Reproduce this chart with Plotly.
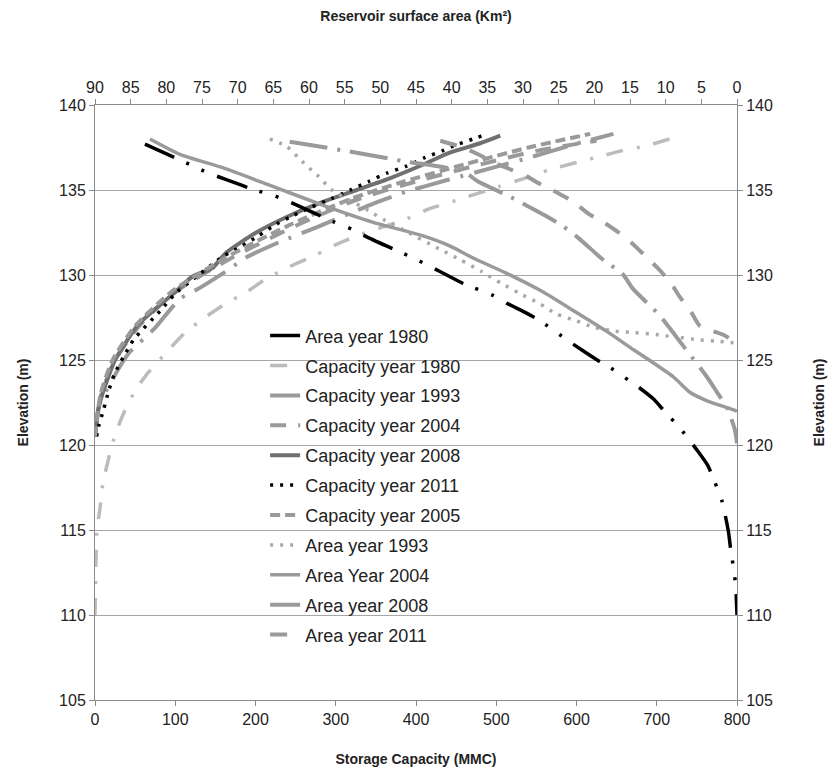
import plotly.graph_objects as go

# ---------------- data (elevation in m) ----------------
# Area curves (km2, top axis)
area1980_elev = [137.7, 136.5, 136.0, 135.6, 135.0, 134.7, 134.3, 133.1, 132.7, 132.2, 131.0, 130.5, 130.0, 129.5,
                 128.8, 128.3, 127.8, 127.3, 126.2, 125.6, 125.0, 124.5, 123.4, 122.7, 121.9, 121.1, 119.7, 118.8,
                 117.8, 116.7, 114.9, 113.9, 112.8, 111.8, 110.0]
area1980_val = [83.0, 76.7, 74.1, 71.5, 67.6, 65.1, 62.7, 56.4, 54.0, 51.7, 45.4, 43.0, 40.7, 38.4,
                34.2, 32.1, 29.7, 27.6, 23.9, 21.8, 19.6, 17.6, 13.8, 11.7, 10.0, 8.2, 5.6, 4.1,
                3.1, 2.1, 1.2, 0.9, 0.5, 0.2, 0.0]

area1993_elev = [138.0, 137.55, 137.16, 136.7, 136.3, 135.9, 135.5, 135.0, 134.4, 133.8, 133.2, 132.7, 131.5, 130.9,
                 130.2, 129.5, 128.9, 128.3, 127.7, 127.3, 126.9, 126.7, 126.6, 126.5, 126.4, 126.7, 126.4, 126.2,
                 126.1, 126.0]
area1993_val = [65.5, 63.1, 62.1, 61.0, 60.0, 58.9, 58.0, 56.8, 54.3, 51.7, 49.3, 47.0, 41.6, 38.8,
                35.8, 33.0, 30.4, 27.6, 25.3, 22.5, 19.9, 17.1, 14.3, 11.3, 9.9, 9.1, 8.5, 5.6,
                2.8, 0.0]

area2004_elev = [138.0, 137.1, 136.3, 135.2, 134.1, 133.1, 132.3, 131.7, 131.0, 130.1, 129.1, 127.9, 126.7, 125.6,
                 125.1, 124.0, 123.1, 122.6, 122.2, 122.0]
area2004_val = [82.3, 78.1, 72.0, 65.0, 58.0, 51.0, 44.0, 40.2, 37.0, 32.3, 27.6, 22.9, 18.3, 14.5,
                12.7, 8.9, 6.6, 4.2, 1.4, 0.0]

area2008_elev = [137.84, 137.3, 136.7, 136.1, 135.5, 134.6, 133.5, 132.9, 132.2, 130.8, 130.1, 129.2, 127.6,
                 125.7, 124.0, 123.1, 122.2, 120.9, 120.1]
area2008_val = [62.7, 54.8, 46.8, 38.4, 36.3, 31.8, 26.9, 24.5, 22.3, 18.5, 16.1, 14.6, 10.8,
                7.3, 4.2, 2.8, 1.4, 0.3, 0.0]

area2011_elev = [137.9, 137.5, 137.1, 136.6, 136.2, 135.8, 135.3, 134.8, 134.3, 133.6, 133.1, 132.5, 131.9,
                 131.1, 130.4, 129.6, 128.7, 127.8, 127.0, 126.5, 126.0]
area2011_val = [41.6, 38.4, 36.3, 34.0, 31.7, 29.5, 27.4, 25.0, 22.9, 20.8, 18.7, 16.6, 14.8,
                12.8, 11.1, 9.4, 8.0, 6.4, 5.2, 2.0, 0.0]

# Capacity curves (MMC, bottom axis)
cap1980_elev = [110.0, 115.0, 116.2, 117.8, 119.2, 120.6, 121.9, 123.2, 124.3, 125.5, 126.6, 127.5, 128.3, 129.0,
                129.8, 130.5, 131.2, 131.8, 132.3, 133.3, 133.9, 134.4, 135.2, 135.7, 136.2, 136.9, 137.3, 137.6, 138.0]
cap1980_val = [0, 2.5, 6, 10, 17, 25, 36, 50, 67, 90, 112, 137, 162, 189,
               214, 243, 276, 301, 326, 388, 417, 451, 503, 536, 567, 623, 656, 687, 716]

cap1993_elev = [120.5, 122.3, 124.3, 125.4, 126.8, 128.6, 129.2, 130.3, 131.0, 132.0, 132.8, 134.2, 134.9,
                135.6, 136.3, 137.0, 137.7, 138.3]
cap1993_val = [0, 5, 27, 42, 73, 106, 129, 166, 187, 233, 276, 347, 388,
               440, 495, 548, 598, 646]

cap2004_elev = [120.5, 123.0, 125.0, 127.0, 129.0, 131.0, 133.0, 134.5, 135.5, 136.5, 137.3, 137.9]
cap2004_val = [0, 8, 25, 55, 100, 170, 255, 330, 400, 480, 550, 625]

cap2008_elev = [120.5, 122.3, 123.8, 125.0, 126.0, 127.1, 128.0, 129.0, 129.9, 130.4, 131.3, 132.5, 133.5,
                134.3, 135.0, 135.7, 136.5, 137.2, 137.75, 138.2]
cap2008_val = [0, 5, 15, 25, 38, 54, 75, 100, 121, 146, 163, 201, 243,
               284, 326, 368, 409, 442, 480, 505]

cap2011_elev = [120.5, 121.1, 122.1, 123.2, 124.2, 125.2, 126.2, 127.9, 128.9, 129.6, 131.1, 131.7, 132.3,
                133.0, 133.5, 134.0, 134.5, 135.0, 135.5, 136.0, 136.4, 136.9, 137.35, 137.6, 138.0, 138.2]
cap2011_val = [2, 4.6, 10.8, 17.1, 24.5, 35.7, 48.2, 81.4, 100, 118, 160, 183, 203.5,
               226.5, 247, 270, 295, 318, 341, 364, 388, 411, 435, 447, 471, 483]

cap2005_elev = [120.5, 123.0, 125.0, 127.0, 129.0, 131.0, 133.0, 134.5, 135.5, 136.5, 137.5, 138.3]
cap2005_val = [0, 7, 22, 50, 95, 162, 245, 320, 385, 460, 540, 617]

# axis tick labels
area_ticks = list(range(0, 95, 5))
cap_ticks = list(range(0, 900, 100))
elev_ticks = list(range(105, 145, 5))

# ---------------- figure ----------------
fig = go.Figure()

def add(name, xs, ys, color, width, dash, on_area):
    fig.add_trace(go.Scatter(
        x=xs, y=ys, name=name, mode="lines", legendgroup=name,
        line=dict(color=color, width=width, dash=dash, shape="spline", smoothing=0.6),
        xaxis="x2" if on_area else "x", yaxis="y2" if on_area else "y",
    ))

add("Area year 1980", area1980_val, area1980_elev, "#000000", 3.5, "32px,13px,3px,14px,3px,14px", True)
add("Capacity year 1980", cap1980_val, cap1980_elev, "#bcbcbc", 3.5, "17px,14px,3px,14px", False)
add("Capacity year 1993", cap1993_val, cap1993_elev, "#9a9a9a", 4, "36px,11px,3px,11px", False)
add("Capacity year 2004", cap2004_val, cap2004_elev, "#9a9a9a", 4, "16px,12px", False)
add("Capacity year 2008", cap2008_val, cap2008_elev, "#707070", 4, "solid", False)
add("Capacity year 2011", cap2011_val, cap2011_elev, "#000000", 3.5, "3px,7px", False)
add("Capacity year 2005", cap2005_val, cap2005_elev, "#9a9a9a", 4, "10px,5px", False)
add("Area year 1993", area1993_val, area1993_elev, "#a8a8a8", 3.5, "3px,7px", True)
add("Area Year 2004", area2004_val, area2004_elev, "#9a9a9a", 3.5, "solid", True)
add("Area year 2008", area2008_val, area2008_elev, "#9a9a9a", 4, "38px,10px,3px,10px", True)
add("Area year 2011", area2011_val, area2011_elev, "#9a9a9a", 4, "17px,14px", True)

font_family = "Liberation Sans, Arial, sans-serif"
axis_common = dict(showline=True, linecolor="#8a8a8a", linewidth=1, ticks="outside", ticklen=5,
                   tickcolor="#8a8a8a", tickfont=dict(size=16, color="#222"), zeroline=False,
                   automargin=False)

fig.update_layout(
    width=828, height=770,
    margin=dict(l=87, r=99, t=97, b=78, autoexpand=False),
    paper_bgcolor="white", plot_bgcolor="white",
    font=dict(family=font_family, color="#222"),
    showlegend=True,
    legend=dict(x=0.265, y=0.643, xanchor="left", yanchor="top", bgcolor="rgba(0,0,0,0)",
                font=dict(size=18, color="#222"), tracegroupgap=3.5),
    xaxis=dict(range=[0, 800], tickvals=cap_ticks, showgrid=False,
               title=dict(text="<b>Storage Capacity (MMC)</b>", font=dict(size=14), standoff=26),
               **axis_common),
    xaxis2=dict(range=[90, 0], tickvals=area_ticks, overlaying="x", side="top", showgrid=False,
                title=dict(text="<b>Reservoir surface area (Km²)</b>", font=dict(size=14), standoff=56),
                **axis_common),
    yaxis=dict(range=[105, 140], tickvals=elev_ticks, showgrid=True, gridcolor="#a6a6a6", gridwidth=1,
               title=dict(text="<b>Elevation (m)</b>", font=dict(size=14), standoff=27),
               **axis_common),
    yaxis2=dict(range=[105, 140], tickvals=elev_ticks, overlaying="y", side="right", showgrid=False,
                title=dict(text="<b>Elevation (m)</b>", font=dict(size=14), standoff=42),
                **axis_common),
)

fig.write_html("out.html")
